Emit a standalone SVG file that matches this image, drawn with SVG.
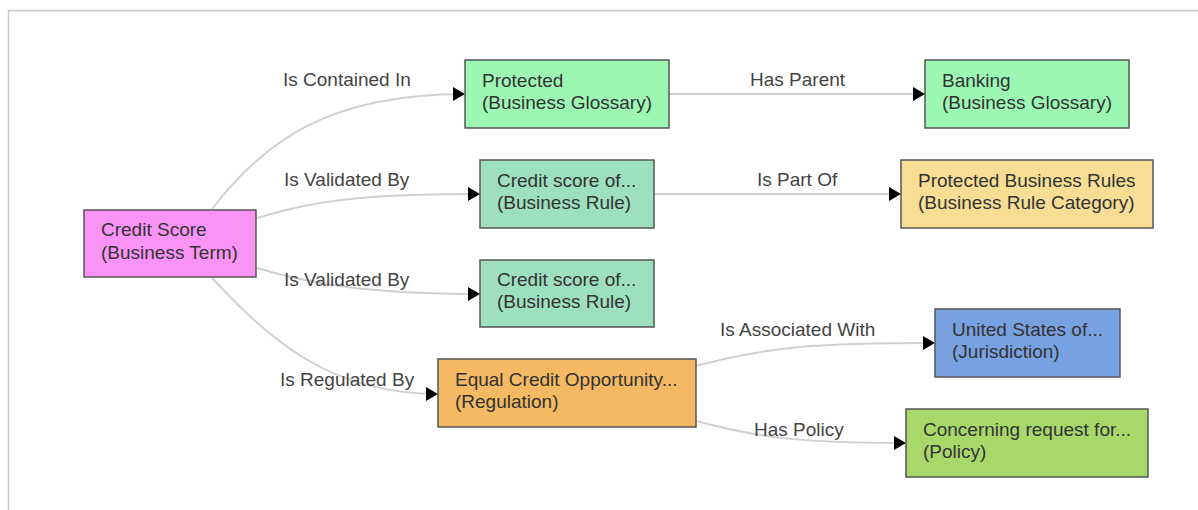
<svg xmlns="http://www.w3.org/2000/svg" width="1198" height="510" viewBox="0 0 1198 510">
<defs>
<style>
.node rect{stroke:#555;stroke-width:1.5}
.node text{font-family:"Liberation Sans",Arial,sans-serif;font-size:19px;fill:#333}
.edge{fill:none;stroke:#d0d0d0;stroke-width:2}
.lbl{font-family:"Liberation Sans",Arial,sans-serif;font-size:19px;fill:#444}
</style>
<marker id="arr" markerUnits="userSpaceOnUse" markerWidth="13" markerHeight="15" refX="12" refY="7" orient="auto" viewBox="0 0 13 15">
<path d="M0,0 L12,7 L0,14 z" fill="#000"/>
</marker>
</defs>
<rect x="0" y="0" width="1198" height="510" fill="#fff"/>
<path d="M8.5,510 L8.5,10.5 L1198,10.5" fill="none" stroke="#c8c8c8" stroke-width="1.5"/>
<g id="connectors">
<path class="edge" d="M212,209 C265,140 330,94 465,94" marker-end="url(#arr)"/>
<path class="edge" d="M257,218 C320,198 380,194 480,194" marker-end="url(#arr)"/>
<path class="edge" d="M257,268 C310,284 370,294 480,294" marker-end="url(#arr)"/>
<path class="edge" d="M212,278 C270,340 330,394 438,394" marker-end="url(#arr)"/>
<path class="edge" d="M669,94 L925,94" marker-end="url(#arr)"/>
<path class="edge" d="M654,194 L901,194" marker-end="url(#arr)"/>
<path class="edge" d="M696,366 C770,346 820,343 935,343" marker-end="url(#arr)"/>
<path class="edge" d="M696,421 C760,438 800,443 906,443" marker-end="url(#arr)"/>
<text class="lbl" x="283" y="86">Is Contained In</text>
<text class="lbl" x="284" y="186">Is Validated By</text>
<text class="lbl" x="284" y="286">Is Validated By</text>
<text class="lbl" x="280" y="386">Is Regulated By</text>
<text class="lbl" x="750" y="86">Has Parent</text>
<text class="lbl" x="757" y="186">Is Part Of</text>
<text class="lbl" x="720" y="336">Is Associated With</text>
<text class="lbl" x="754" y="436">Has Policy</text>
</g>
<g id="n-credit-score" class="node">
<rect x="84" y="210" width="172" height="67" fill="#f993f5"/>
<text x="101" y="236">Credit Score</text>
<text x="101" y="259">(Business Term)</text>
</g>
<g id="n-protected" class="node">
<rect x="465" y="60" width="204" height="68" fill="#9cf7b2"/>
<text x="482" y="87">Protected</text>
<text x="482" y="109">(Business Glossary)</text>
</g>
<g id="n-banking" class="node">
<rect x="925" y="60" width="204" height="68" fill="#9cf7b2"/>
<text x="942" y="87">Banking</text>
<text x="942" y="109">(Business Glossary)</text>
</g>
<g id="n-rule1" class="node">
<rect x="480" y="160" width="174" height="68" fill="#9edfc0"/>
<text x="497" y="187">Credit score of...</text>
<text x="497" y="209">(Business Rule)</text>
</g>
<g id="n-rule-category" class="node">
<rect x="901" y="160" width="252" height="68" fill="#f7de94"/>
<text x="918" y="187">Protected Business Rules</text>
<text x="918" y="209">(Business Rule Category)</text>
</g>
<g id="n-rule2" class="node">
<rect x="480" y="260" width="174" height="67" fill="#9edfc0"/>
<text x="497" y="286">Credit score of...</text>
<text x="497" y="308">(Business Rule)</text>
</g>
<g id="n-regulation" class="node">
<rect x="438" y="359" width="258" height="68" fill="#f4b962"/>
<text x="455" y="386">Equal Credit Opportunity...</text>
<text x="455" y="408">(Regulation)</text>
</g>
<g id="n-jurisdiction" class="node">
<rect x="935" y="309" width="185" height="68" fill="#77a1e0"/>
<text x="952" y="336">United States of...</text>
<text x="952" y="358">(Jurisdiction)</text>
</g>
<g id="n-policy" class="node">
<rect x="906" y="409" width="242" height="68" fill="#a9d86a"/>
<text x="923" y="436">Concerning request for...</text>
<text x="923" y="458">(Policy)</text>
</g>
</svg>
